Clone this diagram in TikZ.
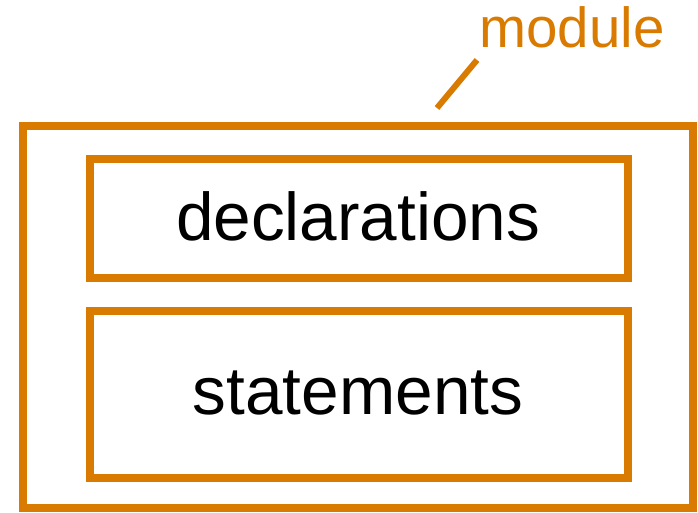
\documentclass[tikz,border=0pt]{standalone}
\usepackage{fontspec}
\setmainfont{Liberation Sans}
\definecolor{modorange}{HTML}{D97B00}
\begin{document}
\begin{tikzpicture}[x=1pt,y=-1pt,
  frame/.style={draw=modorange,line width=8pt},
  label/.style={inner sep=0pt,anchor=base},
]
\useasboundingbox (0,0) rectangle (698,513);
% outer module box
\draw[frame] (22.5,126.5) rectangle (693,508);
% inner boxes
\draw[frame] (90,159.5) rectangle (628,277.5);
\draw[frame] (90,311) rectangle (628,478);
\node[label,font=\fontsize{67.5}{72}\selectfont] (decltext) at (358,240) {declarations};
\node[label,font=\fontsize{67.5}{72}\selectfont] (stmttext) at (358,414) {statements};
% module label with pointer
\node[label,text=modorange,font=\fontsize{56.5}{60}\selectfont,anchor=base west] (modtext) at (479,48) {module};
\coordinate (ptrA) at (437,108);
\coordinate (ptrB) at (477,60);
\draw[modorange,line width=6pt] (ptrA) -- (ptrB);
\end{tikzpicture}
\end{document}
